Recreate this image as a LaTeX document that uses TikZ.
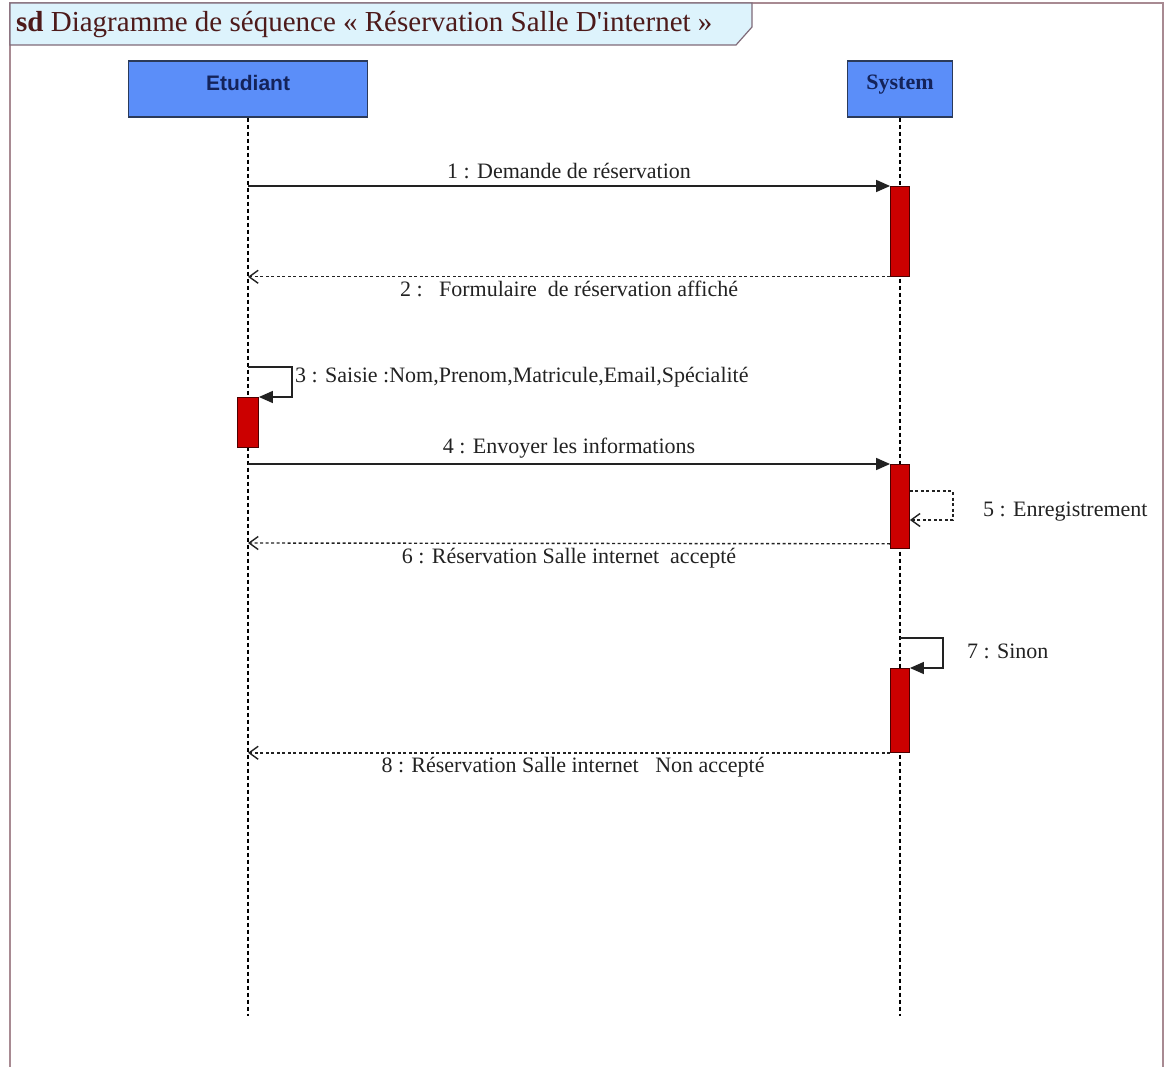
\documentclass[tikz,border=0pt]{standalone}
\usepackage{fontspec}
\setmainfont{Liberation Serif}
\newfontfamily\headsans{Liberation Sans}
\newfontfamily\titleserif{Liberation Serif}
\usetikzlibrary{arrows.meta,positioning}

\definecolor{framegray}{HTML}{A88A92}
\definecolor{tabfill}{HTML}{DDF3FC}
\definecolor{tabline}{HTML}{7F6A78}
\definecolor{titlered}{HTML}{4D1A1A}
\definecolor{headblue}{HTML}{5B8EF9}
\definecolor{headline}{HTML}{2B3A5A}
\definecolor{headtext}{HTML}{14235A}
\definecolor{actred}{HTML}{CC0000}
\definecolor{msggray}{HTML}{222222}

\begin{document}
\begin{tikzpicture}[x=1pt,y=-1pt,
    lifehead/.style={draw=headline, line width=1.3pt, fill=headblue, minimum height=56pt, inner sep=0pt, text=headtext, text depth=13pt},
    lifeline/.style={draw=black, line width=1.4pt, dash pattern=on 4pt off 3pt},
    activation/.style={draw=black!70!red, line width=0.8pt, fill=actred, minimum width=19pt, inner sep=0pt, anchor=north},
    syncmsg/.style={draw=msggray, line width=1.5pt, -{Triangle[length=14pt,width=12pt]}},
    replymsg/.style={draw=msggray, line width=1.4pt, dash pattern=on 3pt off 2.5pt, -{Straight Barb[length=9pt,width=13pt]}},
    msglabel/.style={text=msggray, font=\fontsize{22}{24}\selectfont, inner sep=1pt}]
    \useasboundingbox (0,0) rectangle (1168,1067);

    % Draw frame and title tab
    \draw[framegray, line width=1.5pt] (10,1067) -- (10,3) -- (1163,3) -- (1163,1067);
    \draw[tabline, fill=tabfill, line width=1.2pt] (10,3) -- (752,3) -- (752,27) -- (736,45) -- (10,45) -- cycle;
    \node[anchor=west, text=titlered, font=\titleserif\fontsize{29}{31}\selectfont, inner sep=0pt] (title) at (16,25) {\textbf{sd} Diagramme de séquence « Réservation Salle D'internet »};

    % Draw lifelines
    \node[lifehead, minimum width=239pt, font=\headsans\bfseries\fontsize{21}{23}\selectfont] (etu) at (248,89) {Etudiant};
    \node[lifehead, minimum width=105pt, font=\bfseries\fontsize{22}{24}\selectfont] (sys) at (900,89) {System};
    \coordinate (lineend) at (0,1016);
    \draw[lifeline] (etu.south) -- (etu |- lineend);
    \draw[lifeline] (sys.south) -- (sys |- lineend);

    % Draw activations
    \node[activation, minimum height=90pt] (act1) at (900,186) {};
    \node[activation, minimum height=50pt, minimum width=21pt] (act2) at (248,397) {};
    \node[activation, minimum height=84pt] (act3) at (900,464) {};
    \node[activation, minimum height=84pt] (act4) at (900,668) {};

    % Draw messages
    \draw[syncmsg] (etu |- act1.north) -- (act1.north west) node[msglabel, midway, above=5pt] (m1) {1 : Demande de réservation};
    \draw[replymsg] (act1.south west) -- (etu |- act1.south) node[msglabel, midway, below=3pt] (m2) {2 :\ \ \ Formulaire\ \ de réservation affiché};
    \draw[syncmsg] (etu |- 0,367) -- ++(44,0) |- (act2.north east);
    \node[msglabel, anchor=west] (m3) at (294,377) {3 : Saisie :Nom,Prenom,Matricule,Email,Spécialité};
    \draw[syncmsg] (etu |- act3.north) -- (act3.north west) node[msglabel, midway, above=4pt] (m4) {4 : Envoyer les informations};
    \draw[replymsg] (act3.east |- 0,491) -- ++(43,0) |- (act3.east |- 0,520);
    \node[msglabel, anchor=west] (m5) at (982,512) {5 : Enregistrement};
    \draw[replymsg] ([yshift=5pt]act3.south west) -- (etu |- 0,543) node[msglabel, midway, below=3pt] (m6) {6 : Réservation Salle internet\ \ accepté};
    \draw[syncmsg] (sys |- 0,638) -- ++(43,0) |- (act4.north east);
    \node[msglabel, anchor=west] (m7) at (966,651) {7 : Sinon};
    \draw[replymsg] (act4.south west) -- (etu |- act4.south) node[msglabel, midway, below=3pt, xshift=4pt] (m8) {8 : Réservation Salle internet\ \ \ Non accepté};

\end{tikzpicture}
\end{document}
